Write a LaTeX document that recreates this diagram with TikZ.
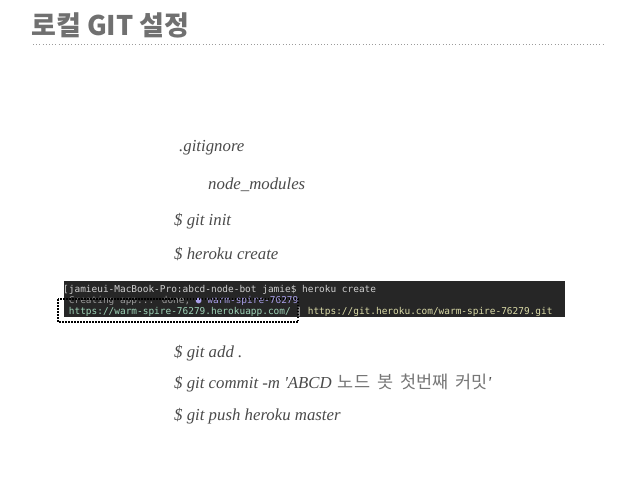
\documentclass[tikz,border=0pt]{standalone}
\usepackage{fontspec}
\newfontfamily\krfont{Noto Sans CJK KR}
\newfontfamily\termfont{DejaVu Sans Mono}
\newfontfamily\bodyfont{Liberation Serif}
\definecolor{titlegray}{HTML}{707070}
\definecolor{bodygray}{HTML}{4A4A4A}
\definecolor{krgray}{HTML}{767676}
\definecolor{termbg}{HTML}{262626}
\definecolor{termtext}{HTML}{CFCFCF}
\definecolor{termdim}{HTML}{9A9A9A}
\definecolor{termlav}{HTML}{A89EE8}
\definecolor{termgreen}{HTML}{9FD4B8}
\definecolor{termyellow}{HTML}{DCDCA8}
\newcommand\krsp{\ \hspace{3pt}}
\tikzset{
  body/.style={anchor=base west, inner sep=0pt, text=bodygray,
    font=\bodyfont\fontsize{16.8}{19}\selectfont\itshape},
  term/.style={anchor=base west, inner sep=0pt,
    font=\termfont\fontsize{9.45}{11}\selectfont},
}
\begin{document}
\begin{tikzpicture}[x=1pt,y=-1pt]
\useasboundingbox (0,0) rectangle (638,479);
% title
\node[anchor=base west, inner sep=0pt, text=titlegray,
  font=\krfont\bfseries\fontsize{27}{30}\selectfont] (title) at (31,35) {로컬 GIT 설정};
\draw[titlegray!70, line width=0.8pt, dash pattern=on 0.8pt off 2.4pt]
  (33,44) coordinate (ruleA) -- (605,44) coordinate (ruleB);
% body lines
\node[body] (gitignore) at (179,151) {.gitignore};
\node[body] (nodemodules) at (208,189) {node\_modules};
\node[body] (gitinit) at (174,225) {\$ git init};
\node[body] (herokucreate) at (174,259) {\$ heroku create};
% terminal
\fill[termbg] (64,281) rectangle (565,317);
\node[term, text=termtext] (tl1) at (63,292) {[jamieui-MacBook-Pro:abcd-node-bot jamie\$ heroku create};
\node[term] (tl2) at (68.7,303) {\textcolor{termdim}{Creating app... done,} \textcolor{termlav}{● warm-spire-76279}};
\node[term] (tl3) at (68.7,314) {\textcolor{termgreen}{https://warm-spire-76279.herokuapp.com/} \textcolor{white}{|} \textcolor{termyellow}{https://git.heroku.com/warm-spire-76279.git}};
\draw[black, line width=1.5pt, dash pattern=on 1.5pt off 1.5pt]
  (58,299) rectangle (298,322);
% more body lines
\node[body] (gitadd) at (174,357) {\$ git add .};
\node[body] (gitcommit) at (174,388) {\$ git commit -m 'ABCD {\upshape\krfont\fontsize{17.5}{19}\selectfont\color{krgray}\hspace{2pt}노드\krsp 봇\krsp 첫번째\krsp 커밋}'};
\node[body] (gitpush) at (174,420) {\$ git push heroku master};
\end{tikzpicture}
\end{document}
